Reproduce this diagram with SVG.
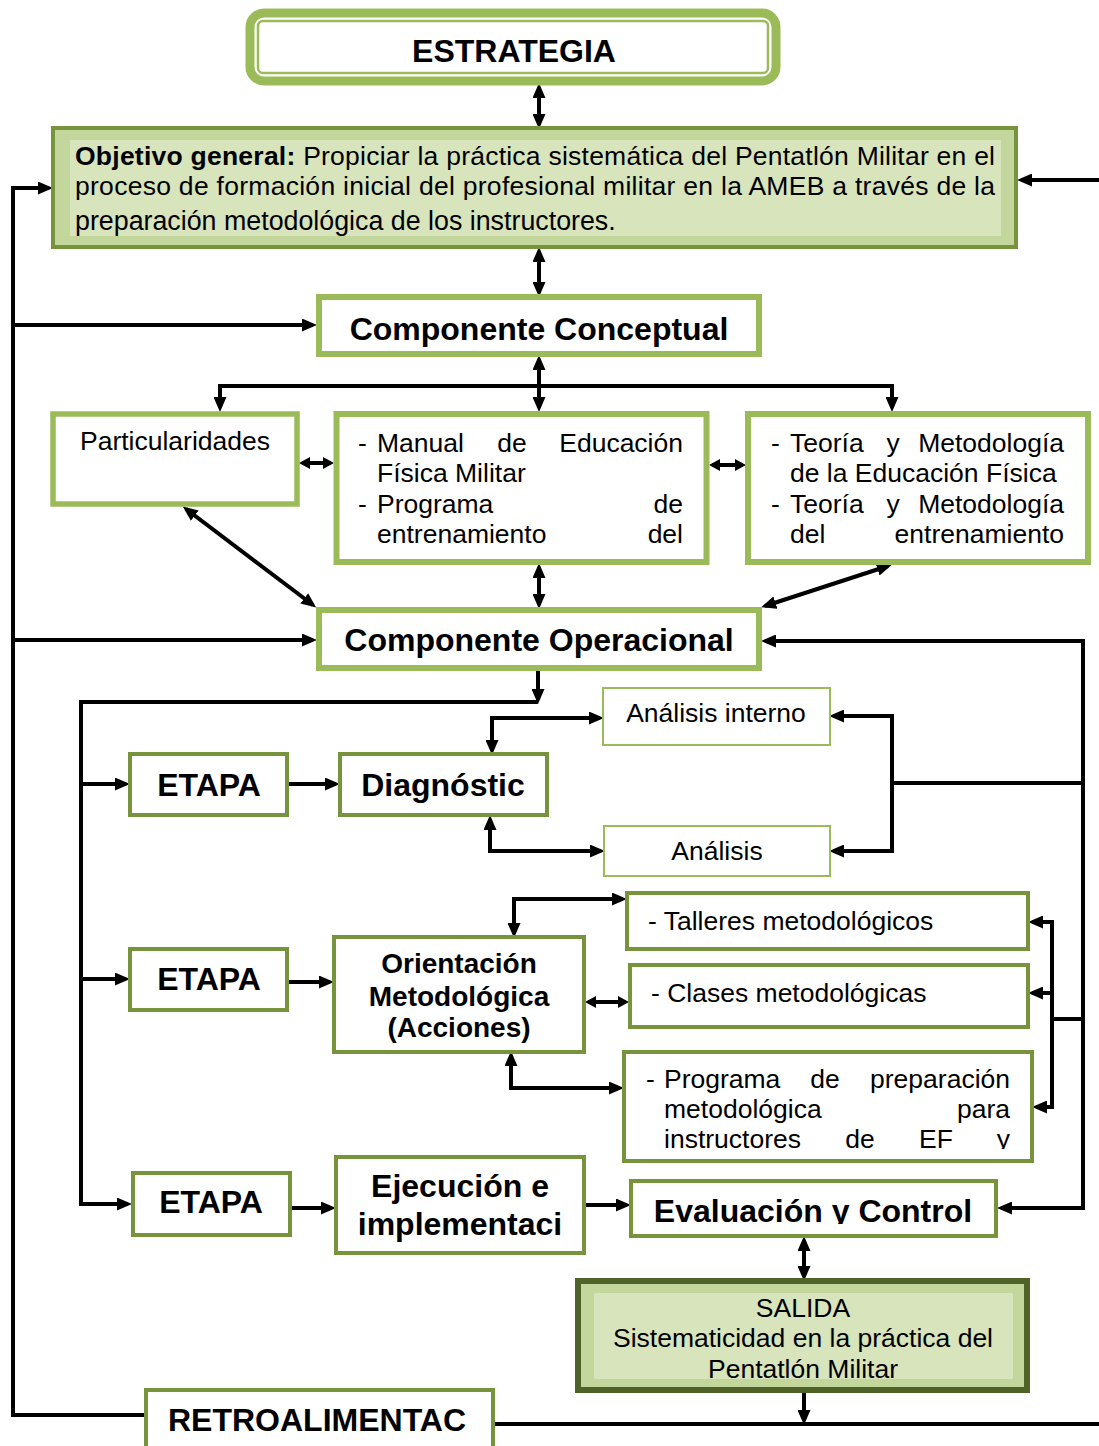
<svg xmlns="http://www.w3.org/2000/svg" width="1099" height="1446" viewBox="0 0 1099 1446">
<style>
text{font-family:"Liberation Sans",Arial,sans-serif;fill:#000}
.b{font-weight:bold}
.t31{font-size:32px}
.t28{font-size:28px}
.t26{font-size:26.5px}
.m{text-anchor:middle}
.e{text-anchor:end}
.gl{fill:#fff;stroke:#9bbb59;stroke-width:6}
.gd{fill:#fff;stroke:#77933c;stroke-width:4}
.gt{fill:#fff;stroke:#9bbb59;stroke-width:2}
.c{fill:none;stroke:#000;stroke-width:4}
.a2{marker-start:url(#ah);marker-end:url(#ah)}
.a1{marker-end:url(#ah)}
.s2{marker-start:url(#sm);marker-end:url(#sm)}
</style>
<defs>
<marker id="ah" viewBox="0 0 15 13" refX="11" refY="6.5" markerWidth="15" markerHeight="13" markerUnits="userSpaceOnUse" orient="auto-start-reverse"><path d="M0,0 L15,6.5 L0,13 z" fill="#000"/></marker>
<marker id="sm" viewBox="0 0 11 12" refX="8" refY="6" markerWidth="11" markerHeight="12" markerUnits="userSpaceOnUse" orient="auto-start-reverse"><path d="M0,0 L11,6 L0,12 z" fill="#000"/></marker>
<clipPath id="cpProg"><rect x="624" y="1052" width="408" height="97"/></clipPath>
<clipPath id="cpEval"><rect x="631" y="1181" width="365" height="43"/></clipPath>
<clipPath id="cpSal"><rect x="594" y="1293" width="419" height="88"/></clipPath>
</defs>
<rect width="1099" height="1446" fill="#fff"/>

<g id="connectors">
<path class="c a2" d="M539,87 V125"/>
<path class="c a2" d="M539,251 V293"/>
<path class="c a1" d="M146,1415 H13 V188 H49"/>
<path class="c a1" d="M13,325 H313"/>
<path class="c a1" d="M13,640 H313"/>
<path class="c a1" d="M1099,180 H1021"/>
<path class="c a2" d="M539,359 V408"/>
<path class="c a2" d="M220,408 V386 H892 V408"/>
<path class="c s2" d="M302,463 H331"/>
<path class="c s2" d="M712,465 H743"/>
<path class="c a2" d="M186,509 L313,605"/>
<path class="c a2" d="M539,567 V605"/>
<path class="c a2" d="M888,566 L765,606"/>
<path class="c a1" d="M538,671 V700"/>
<path class="c a1" d="M538,702 H81 V1204 H128"/>
<path class="c a1" d="M81,784 H126"/>
<path class="c a1" d="M81,979 H126"/>
<path class="c a1" d="M289,784 H336"/>
<path class="c a2" d="M492,751 V718 H600"/>
<path class="c a2" d="M490,819 V851 H601"/>
<path class="c a2" d="M833,716 H892 V851 H833"/>
<path class="c" d="M892,783 H1083"/>
<path class="c a2" d="M765,641 H1083 V1208 H1001"/>
<path class="c a1" d="M289,982 H330"/>
<path class="c a2" d="M514,934 V899 H623"/>
<path class="c s2" d="M588,1002 H626"/>
<path class="c a2" d="M511,1055 V1088 H620"/>
<path class="c a2" d="M1032,922 H1052 V1107 H1036"/>
<path class="c a1" d="M1052,993 H1032"/>
<path class="c" d="M1052,1019 H1083"/>
<path class="c a1" d="M291,1208 H332"/>
<path class="c a1" d="M585,1205 H627"/>
<path class="c a2" d="M804,1240 V1277"/>
<path class="c a1" d="M804,1393 V1421"/>
<path class="c" d="M495,1424 H1099"/>
</g>

<g id="estrategia">
<rect x="250" y="13" width="526" height="68" rx="14" fill="#fff" stroke="#9bbb59" stroke-width="9"/>
<rect x="258" y="21" width="510" height="52" rx="5" fill="none" stroke="#9bbb59" stroke-width="2.5"/>
<text class="b t31 m" x="514" y="62">ESTRATEGIA</text>
</g>

<g id="objetivo">
<rect x="53" y="128" width="963" height="119" fill="#c3d69b" stroke="#77933c" stroke-width="4"/>
<rect x="70" y="140" width="931" height="96" fill="#d7e4bc"/>
<text class="t26" x="75" y="165" textLength="920" lengthAdjust="spacing"><tspan class="b">Objetivo general:</tspan> Propiciar la práctica sistemática del Pentatlón Militar en el</text>
<text class="t26" x="75" y="195" textLength="920" lengthAdjust="spacing">proceso de formación inicial del profesional militar en la AMEB a través de la</text>
<text class="t26" x="75" y="230" style="font-size:26.8px">preparación metodológica de los instructores.</text>
</g>

<g id="conceptual">
<rect class="gl" x="319" y="297" width="440" height="57"/>
<text class="b t31 m" x="539" y="340">Componente Conceptual</text>
</g>

<g id="particularidades">
<rect class="gl" x="53" y="414" width="244" height="90" style="stroke-width:5.5"/>
<text class="t26 m" x="175" y="450">Particularidades</text>
</g>

<g id="manual">
<rect class="gl" x="336.5" y="414" width="370" height="148"/>
<text class="t26" x="358" y="452">-</text>
<text class="t26" x="377" y="452">Manual</text>
<text class="t26 m" x="512" y="452">de</text>
<text class="t26 e" x="683" y="452">Educación</text>
<text class="t26" x="377" y="482">Física Militar</text>
<text class="t26" x="358" y="513">-</text>
<text class="t26" x="377" y="513">Programa</text>
<text class="t26 e" x="683" y="513">de</text>
<text class="t26" x="377" y="543">entrenamiento</text>
<text class="t26 e" x="683" y="543">del</text>
</g>

<g id="teoria">
<rect class="gl" x="748" y="414" width="340" height="148"/>
<text class="t26" x="771" y="452">-</text>
<text class="t26" x="790" y="452">Teoría</text>
<text class="t26 m" x="893" y="452">y</text>
<text class="t26 e" x="1064" y="452">Metodología</text>
<text class="t26" x="790" y="482">de la Educación Física</text>
<text class="t26" x="771" y="513">-</text>
<text class="t26" x="790" y="513">Teoría</text>
<text class="t26 m" x="893" y="513">y</text>
<text class="t26 e" x="1064" y="513">Metodología</text>
<text class="t26" x="790" y="543">del</text>
<text class="t26 e" x="1064" y="543">entrenamiento</text>
</g>

<g id="operacional">
<rect class="gl" x="319" y="610" width="440" height="58"/>
<text class="b t31 m" x="539" y="651">Componente Operacional</text>
</g>

<g id="analisis-interno">
<rect class="gt" x="603" y="688" width="227" height="57"/>
<text class="t26 m" x="716" y="722">Análisis interno</text>
</g>

<g id="analisis">
<rect class="gt" x="604" y="826" width="226" height="50"/>
<text class="t26 m" x="717" y="860">Análisis</text>
</g>

<g id="etapa1">
<rect class="gd" x="130" y="754" width="157" height="61"/>
<text class="b t31 m" x="209" y="796">ETAPA</text>
</g>

<g id="diagnostico">
<rect class="gd" x="340" y="754" width="207" height="61"/>
<text class="b t31 m" x="443" y="796">Diagnóstic</text>
</g>

<g id="etapa2">
<rect class="gd" x="130" y="949" width="157" height="61"/>
<text class="b t31 m" x="209" y="990">ETAPA</text>
</g>

<g id="orientacion">
<rect class="gd" x="334" y="937" width="250" height="115"/>
<text class="b t28 m" x="459" y="973">Orientación</text>
<text class="b t28 m" x="459" y="1006">Metodológica</text>
<text class="b t28 m" x="459" y="1037">(Acciones)</text>
</g>

<g id="talleres">
<rect class="gd" x="627" y="893" width="401" height="56"/>
<text class="t26" x="648" y="930">- Talleres metodológicos</text>
</g>

<g id="clases">
<rect class="gd" x="630" y="965" width="398" height="62"/>
<text class="t26" x="651" y="1002">- Clases metodológicas</text>
</g>

<g id="programa">
<rect class="gd" x="624" y="1052" width="408" height="109"/>
<g clip-path="url(#cpProg)">
<text class="t26" x="646" y="1088">-</text>
<text class="t26" x="664" y="1088">Programa</text>
<text class="t26 m" x="825" y="1088">de</text>
<text class="t26 e" x="1010" y="1088">preparación</text>
<text class="t26" x="664" y="1118">metodológica</text>
<text class="t26 e" x="1010" y="1118">para</text>
<text class="t26" x="664" y="1148">instructores</text>
<text class="t26 m" x="860" y="1148">de</text>
<text class="t26 m" x="936" y="1148">EF</text>
<text class="t26 e" x="1010" y="1148">y</text>
</g>
</g>

<g id="etapa3">
<rect class="gd" x="133" y="1173" width="157" height="62"/>
<text class="b t31 m" x="211" y="1213">ETAPA</text>
</g>

<g id="ejecucion">
<rect class="gd" x="336" y="1157" width="248" height="96"/>
<text class="b t31 m" x="460" y="1197">Ejecución e</text>
<text class="b t31 m" x="460" y="1235">implementaci</text>
</g>

<g id="evaluacion">
<rect class="gd" x="631" y="1181" width="365" height="55"/>
<text class="b t31 m" x="813" y="1222" clip-path="url(#cpEval)">Evaluación y Control</text>
</g>

<g id="salida">
<rect x="578" y="1281" width="449" height="109" fill="#c3d69b" stroke="#4f6228" stroke-width="6"/>
<rect x="594" y="1293" width="419" height="86" fill="#d7e4bc"/>
<g clip-path="url(#cpSal)">
<text class="t26 m" x="803" y="1317">SALIDA</text>
<text class="t26 m" x="803" y="1347">Sistematicidad en la práctica del</text>
<text class="t26 m" x="803" y="1378">Pentatlón Militar</text>
</g>
</g>

<g id="retroalimentacion">
<rect class="gd" x="146" y="1390" width="347" height="62"/>
<text class="b t31 m" x="317" y="1431">RETROALIMENTAC</text>
</g>
</svg>
